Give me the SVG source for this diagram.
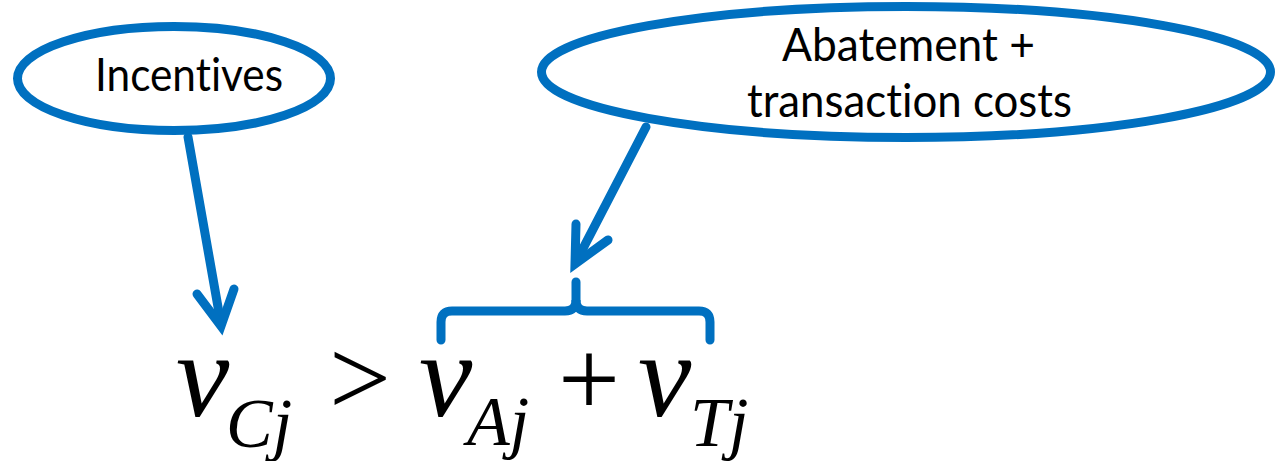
<svg xmlns="http://www.w3.org/2000/svg" width="1276" height="461" viewBox="0 0 1276 461">
<style>
.bubble{fill:#fff;stroke:#0070C0;stroke-width:9}
.lbl{font-family:Lato,"Open Sans","Liberation Sans",sans-serif;font-size:46px;fill:#000;text-anchor:middle;font-variant-ligatures:none;font-feature-settings:"liga" 0}
.conn{fill:none;stroke:#0070C0;stroke-width:9;stroke-linecap:round;stroke-linejoin:miter}
.math{font-family:"Liberation Serif","Times New Roman",serif;fill:#000}
.it{font-style:italic}
</style>
<rect width="1276" height="461" fill="#fff"/>
<g id="connectors">
<path class="conn" d="M188,137 L221,324" stroke-linecap="butt"/>
<polyline class="conn" points="197,294 221,326 234,289"/>
<path class="conn" d="M646,127 L576,262" stroke-linecap="butt"/>
<polyline class="conn" points="576,224 575,264 608,240"/>
<path class="conn" d="M441,340 L441,322 Q441,311 452,311 L565,311 Q576,311 576,300 Q576,311 587,311 L699,311 Q710,311 710,322 L710,340" stroke-linecap="butt" stroke-linejoin="round" stroke-width="8.5"/>
<path class="conn" d="M576,301 L576,282" stroke-width="8.5"/>
</g>
<g id="incentives">
<ellipse class="bubble" cx="174" cy="78.5" rx="156.5" ry="52"/>
<text class="lbl" x="189" y="91" textLength="188" lengthAdjust="spacingAndGlyphs">Incentives</text>
</g>
<g id="costs">
<ellipse class="bubble" cx="906" cy="72" rx="364.5" ry="65.5"/>
<text class="lbl" x="908.5" y="61" textLength="253" lengthAdjust="spacingAndGlyphs">Abatement +</text>
<text class="lbl" x="909.5" y="117" textLength="325" lengthAdjust="spacingAndGlyphs">transaction costs</text>
</g>
<g id="equation">
<text class="math it" x="176" y="416" font-size="120">v</text>
<text class="math it" x="226" y="447" font-size="70">Cj</text>
<text class="math" x="329" y="415" font-size="110">&gt;</text>
<text class="math it" x="419" y="416" font-size="120">v</text>
<text class="math it" x="467" y="445" font-size="70">Aj</text>
<text class="math" x="558" y="416" font-size="110">+</text>
<text class="math it" x="638" y="416" font-size="120">v</text>
<text class="math it" x="690" y="446" font-size="70">Tj</text>
</g>
</svg>
